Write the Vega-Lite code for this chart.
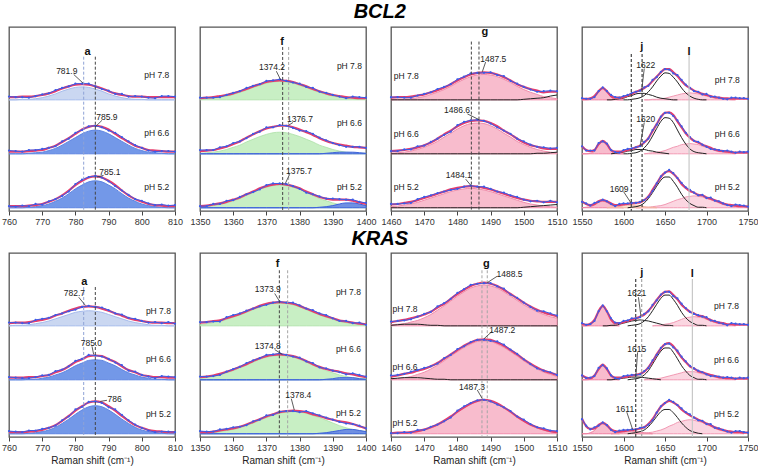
{
"$schema":"https://vega.github.io/schema/vega-lite/v6.json",
"padding":{"top":2,"left":0,"right":0,"bottom":0},
"background":"white",
"config":{
 "font":"Liberation Sans",
 "view":{"stroke":"#555","strokeWidth":1.3},
 "mark":{"invalid":"filter"},
 "axisY":{"disable":true},
 "axisX":{"format":"d","domain":false,"grid":false,"tickSize":4,"tickColor":"#444","labelFontSize":9,"labelColor":"#333","labelPadding":2,"labelFlush":false,"labelOverlap":false,"titleFontSize":10,"titleFontWeight":"normal","titleColor":"#222","titlePadding":3}
},
"datasets":{
"A":[
{"x":760,"b":2,"d":2.06,"f":2.05,"c":2},{"x":762,"b":2,"d":2.05,"f":2.05,"c":2},{"x":764,"b":2,"d":2.05,"f":2.06,"c":2.01},{"x":766,"b":2,"d":2.04,"f":2.06,"c":2.01},{"x":768,"b":2,"d":2.07,"f":2.07,"c":2.02},{"x":770,"b":2,"d":2.1,"f":2.09,"c":2.04},{"x":772,"b":2,"d":2.12,"f":2.12,"c":2.07},{"x":774,"b":2,"d":2.18,"f":2.16,"c":2.11},{"x":776,"b":2,"d":2.22,"f":2.21,"c":2.16},{"x":778,"b":2,"d":2.25,"f":2.25,"c":2.2},{"x":780,"b":2,"d":2.3,"f":2.28,"c":2.23},{"x":782,"b":2,"d":2.3,"f":2.29,"c":2.24},{"x":784,"b":2,"d":2.3,"f":2.28,"c":2.23},{"x":786,"b":2,"d":2.25,"f":2.25,"c":2.2},{"x":788,"b":2,"d":2.2,"f":2.21,"c":2.16},{"x":790,"b":2,"d":2.17,"f":2.16,"c":2.11},{"x":792,"b":2,"d":2.11,"f":2.12,"c":2.07},{"x":794,"b":2,"d":2.11,"f":2.09,"c":2.04},{"x":796,"b":2,"d":2.06,"f":2.07,"c":2.02},{"x":798,"b":2,"d":2.07,"f":2.06,"c":2.01},{"x":800,"b":2,"d":2.06,"f":2.06,"c":2.01},{"x":802,"b":2,"d":2.04,"f":2.05,"c":2},{"x":804,"b":2,"d":2.03,"f":2.05,"c":2},{"x":806,"b":2,"d":2.07,"f":2.05,"c":2},{"x":808,"b":2,"d":2.07,"f":2.05,"c":2},{"x":810,"b":2,"d":2.06,"f":2.05,"c":2},
{"x":760,"b":1,"d":1.06,"f":1.04,"c":1},{"x":762,"b":1,"d":1.05,"f":1.04,"c":1},{"x":764,"b":1,"d":1.04,"f":1.04,"c":1},{"x":766,"b":1,"d":1.07,"f":1.05,"c":1.01},{"x":768,"b":1,"d":1.07,"f":1.06,"c":1.02},{"x":770,"b":1,"d":1.09,"f":1.07,"c":1.03},{"x":772,"b":1,"d":1.11,"f":1.11,"c":1.06},{"x":774,"b":1,"d":1.14,"f":1.15,"c":1.1},{"x":776,"b":1,"d":1.23,"f":1.22,"c":1.16},{"x":778,"b":1,"d":1.28,"f":1.29,"c":1.23},{"x":780,"b":1,"d":1.39,"f":1.37,"c":1.3},{"x":782,"b":1,"d":1.44,"f":1.45,"c":1.37},{"x":784,"b":1,"d":1.51,"f":1.5,"c":1.42},{"x":786,"b":1,"d":1.52,"f":1.52,"c":1.44},{"x":788,"b":1,"d":1.49,"f":1.5,"c":1.42},{"x":790,"b":1,"d":1.43,"f":1.45,"c":1.37},{"x":792,"b":1,"d":1.39,"f":1.37,"c":1.3},{"x":794,"b":1,"d":1.31,"f":1.29,"c":1.23},{"x":796,"b":1,"d":1.23,"f":1.22,"c":1.16},{"x":798,"b":1,"d":1.16,"f":1.15,"c":1.1},{"x":800,"b":1,"d":1.11,"f":1.11,"c":1.06},{"x":802,"b":1,"d":1.06,"f":1.07,"c":1.03},{"x":804,"b":1,"d":1.04,"f":1.06,"c":1.02},{"x":806,"b":1,"d":1.05,"f":1.05,"c":1.01},{"x":808,"b":1,"d":1.05,"f":1.04,"c":1},{"x":810,"b":1,"d":1.04,"f":1.04,"c":1},
{"x":760,"b":0,"d":0.03,"f":0.03,"c":0},{"x":762,"b":0,"d":0.02,"f":0.03,"c":0},{"x":764,"b":0,"d":0.04,"f":0.03,"c":0},{"x":766,"b":0,"d":0.03,"f":0.04,"c":0.01},{"x":768,"b":0,"d":0.07,"f":0.05,"c":0.02},{"x":770,"b":0,"d":0.06,"f":0.07,"c":0.04},{"x":772,"b":0,"d":0.12,"f":0.11,"c":0.07},{"x":774,"b":0,"d":0.16,"f":0.16,"c":0.12},{"x":776,"b":0,"d":0.22,"f":0.23,"c":0.18},{"x":778,"b":0,"d":0.3,"f":0.32,"c":0.26},{"x":780,"b":0,"d":0.44,"f":0.42,"c":0.35},{"x":782,"b":0,"d":0.52,"f":0.5,"c":0.42},{"x":784,"b":0,"d":0.57,"f":0.56,"c":0.48},{"x":786,"b":0,"d":0.59,"f":0.58,"c":0.5},{"x":788,"b":0,"d":0.56,"f":0.56,"c":0.48},{"x":790,"b":0,"d":0.49,"f":0.5,"c":0.42},{"x":792,"b":0,"d":0.4,"f":0.42,"c":0.35},{"x":794,"b":0,"d":0.32,"f":0.32,"c":0.26},{"x":796,"b":0,"d":0.24,"f":0.23,"c":0.18},{"x":798,"b":0,"d":0.16,"f":0.16,"c":0.12},{"x":800,"b":0,"d":0.13,"f":0.11,"c":0.07},{"x":802,"b":0,"d":0.08,"f":0.07,"c":0.04},{"x":804,"b":0,"d":0.05,"f":0.05,"c":0.02},{"x":806,"b":0,"d":0.06,"f":0.04,"c":0.01},{"x":808,"b":0,"d":0.04,"f":0.03,"c":0},{"x":810,"b":0,"d":0.05,"f":0.03,"c":0}
],
"B":[
{"x":760,"b":2,"d":2.06,"f":2.05,"c":2},{"x":762,"b":2,"d":2.06,"f":2.06,"c":2.01},{"x":764,"b":2,"d":2.05,"f":2.06,"c":2.01},{"x":766,"b":2,"d":2.05,"f":2.07,"c":2.02},{"x":768,"b":2,"d":2.11,"f":2.09,"c":2.04},{"x":770,"b":2,"d":2.13,"f":2.11,"c":2.06},{"x":772,"b":2,"d":2.15,"f":2.14,"c":2.09},{"x":774,"b":2,"d":2.2,"f":2.19,"c":2.13},{"x":776,"b":2,"d":2.23,"f":2.23,"c":2.17},{"x":778,"b":2,"d":2.27,"f":2.28,"c":2.21},{"x":780,"b":2,"d":2.3,"f":2.32,"c":2.25},{"x":782,"b":2,"d":2.35,"f":2.35,"c":2.27},{"x":784,"b":2,"d":2.37,"f":2.36,"c":2.28},{"x":786,"b":2,"d":2.35,"f":2.35,"c":2.27},{"x":788,"b":2,"d":2.34,"f":2.32,"c":2.25},{"x":790,"b":2,"d":2.29,"f":2.28,"c":2.21},{"x":792,"b":2,"d":2.23,"f":2.23,"c":2.17},{"x":794,"b":2,"d":2.21,"f":2.19,"c":2.13},{"x":796,"b":2,"d":2.15,"f":2.14,"c":2.09},{"x":798,"b":2,"d":2.13,"f":2.11,"c":2.06},{"x":800,"b":2,"d":2.09,"f":2.09,"c":2.04},{"x":802,"b":2,"d":2.06,"f":2.07,"c":2.02},{"x":804,"b":2,"d":2.07,"f":2.06,"c":2.01},{"x":806,"b":2,"d":2.05,"f":2.06,"c":2.01},{"x":808,"b":2,"d":2.07,"f":2.05,"c":2},{"x":810,"b":2,"d":2.04,"f":2.05,"c":2},
{"x":760,"b":1,"d":1.05,"f":1.04,"c":1},{"x":762,"b":1,"d":1.04,"f":1.04,"c":1},{"x":764,"b":1,"d":1.03,"f":1.04,"c":1},{"x":766,"b":1,"d":1.03,"f":1.05,"c":1.01},{"x":768,"b":1,"d":1.05,"f":1.05,"c":1.01},{"x":770,"b":1,"d":1.08,"f":1.07,"c":1.03},{"x":772,"b":1,"d":1.09,"f":1.09,"c":1.05},{"x":774,"b":1,"d":1.16,"f":1.14,"c":1.09},{"x":776,"b":1,"d":1.19,"f":1.18,"c":1.13},{"x":778,"b":1,"d":1.25,"f":1.25,"c":1.19},{"x":780,"b":1,"d":1.35,"f":1.33,"c":1.26},{"x":782,"b":1,"d":1.39,"f":1.38,"c":1.31},{"x":784,"b":1,"d":1.46,"f":1.44,"c":1.36},{"x":786,"b":1,"d":1.45,"f":1.45,"c":1.37},{"x":788,"b":1,"d":1.43,"f":1.44,"c":1.36},{"x":790,"b":1,"d":1.39,"f":1.38,"c":1.31},{"x":792,"b":1,"d":1.32,"f":1.33,"c":1.26},{"x":794,"b":1,"d":1.27,"f":1.25,"c":1.19},{"x":796,"b":1,"d":1.17,"f":1.18,"c":1.13},{"x":798,"b":1,"d":1.15,"f":1.14,"c":1.09},{"x":800,"b":1,"d":1.09,"f":1.09,"c":1.05},{"x":802,"b":1,"d":1.06,"f":1.07,"c":1.03},{"x":804,"b":1,"d":1.03,"f":1.05,"c":1.01},{"x":806,"b":1,"d":1.07,"f":1.05,"c":1.01},{"x":808,"b":1,"d":1.06,"f":1.04,"c":1},{"x":810,"b":1,"d":1.05,"f":1.04,"c":1},
{"x":760,"b":0,"d":0.05,"f":0.03,"c":0},{"x":762,"b":0,"d":0.04,"f":0.03,"c":0},{"x":764,"b":0,"d":0.03,"f":0.03,"c":0},{"x":766,"b":0,"d":0.06,"f":0.04,"c":0.01},{"x":768,"b":0,"d":0.06,"f":0.05,"c":0.02},{"x":770,"b":0,"d":0.09,"f":0.07,"c":0.04},{"x":772,"b":0,"d":0.11,"f":0.11,"c":0.07},{"x":774,"b":0,"d":0.15,"f":0.16,"c":0.12},{"x":776,"b":0,"d":0.25,"f":0.24,"c":0.19},{"x":778,"b":0,"d":0.32,"f":0.33,"c":0.27},{"x":780,"b":0,"d":0.45,"f":0.43,"c":0.36},{"x":782,"b":0,"d":0.5,"f":0.51,"c":0.44},{"x":784,"b":0,"d":0.59,"f":0.58,"c":0.5},{"x":786,"b":0,"d":0.6,"f":0.6,"c":0.52},{"x":788,"b":0,"d":0.57,"f":0.58,"c":0.5},{"x":790,"b":0,"d":0.49,"f":0.51,"c":0.44},{"x":792,"b":0,"d":0.45,"f":0.43,"c":0.36},{"x":794,"b":0,"d":0.35,"f":0.33,"c":0.27},{"x":796,"b":0,"d":0.25,"f":0.24,"c":0.19},{"x":798,"b":0,"d":0.17,"f":0.16,"c":0.12},{"x":800,"b":0,"d":0.11,"f":0.11,"c":0.07},{"x":802,"b":0,"d":0.06,"f":0.07,"c":0.04},{"x":804,"b":0,"d":0.03,"f":0.05,"c":0.02},{"x":806,"b":0,"d":0.04,"f":0.04,"c":0.01},{"x":808,"b":0,"d":0.04,"f":0.03,"c":0},{"x":810,"b":0,"d":0.03,"f":0.03,"c":0}
],
"C":[
{"x":1350,"b":2,"d":2.04,"f":2.03,"c":2.01},{"x":1352,"b":2,"d":2.04,"f":2.04,"c":2.02},{"x":1354,"b":2,"d":2.04,"f":2.05,"c":2.03},{"x":1356,"b":2,"d":2.05,"f":2.07,"c":2.05},{"x":1358,"b":2,"d":2.09,"f":2.09,"c":2.07},{"x":1360,"b":2,"d":2.13,"f":2.12,"c":2.1},{"x":1362,"b":2,"d":2.16,"f":2.16,"c":2.14},{"x":1364,"b":2,"d":2.22,"f":2.2,"c":2.18},{"x":1366,"b":2,"d":2.26,"f":2.25,"c":2.23},{"x":1368,"b":2,"d":2.29,"f":2.29,"c":2.27},{"x":1370,"b":2,"d":2.35,"f":2.33,"c":2.31},{"x":1372,"b":2,"d":2.36,"f":2.35,"c":2.33},{"x":1374,"b":2,"d":2.38,"f":2.36,"c":2.34},{"x":1376,"b":2,"d":2.35,"f":2.35,"c":2.33},{"x":1378,"b":2,"d":2.32,"f":2.33,"c":2.31},{"x":1380,"b":2,"d":2.3,"f":2.29,"c":2.27},{"x":1382,"b":2,"d":2.24,"f":2.25,"c":2.23},{"x":1384,"b":2,"d":2.22,"f":2.2,"c":2.18},{"x":1386,"b":2,"d":2.15,"f":2.16,"c":2.14},{"x":1388,"b":2,"d":2.13,"f":2.12,"c":2.1},{"x":1390,"b":2,"d":2.09,"f":2.09,"c":2.07},{"x":1392,"b":2,"d":2.06,"f":2.07,"c":2.05},{"x":1394,"b":2,"d":2.03,"f":2.05,"c":2.03},{"x":1396,"b":2,"d":2.06,"f":2.04,"c":2.02},{"x":1398,"b":2,"d":2.05,"f":2.03,"c":2.01},{"x":1400,"b":2,"d":2.04,"f":2.03,"c":2.01},
{"x":1350,"b":1,"d":1.07,"f":1.05,"c":1.01,"e":1},{"x":1352,"b":1,"d":1.07,"f":1.06,"c":1.02,"e":1},{"x":1354,"b":1,"d":1.07,"f":1.07,"c":1.03,"e":1},{"x":1356,"b":1,"d":1.12,"f":1.1,"c":1.05,"e":1},{"x":1358,"b":1,"d":1.14,"f":1.13,"c":1.08,"e":1},{"x":1360,"b":1,"d":1.2,"f":1.18,"c":1.12,"e":1},{"x":1362,"b":1,"d":1.23,"f":1.23,"c":1.16,"e":1},{"x":1364,"b":1,"d":1.29,"f":1.3,"c":1.22,"e":1},{"x":1366,"b":1,"d":1.37,"f":1.36,"c":1.27,"e":1},{"x":1368,"b":1,"d":1.41,"f":1.42,"c":1.32,"e":1},{"x":1370,"b":1,"d":1.49,"f":1.47,"c":1.36,"e":1},{"x":1372,"b":1,"d":1.49,"f":1.5,"c":1.39,"e":1},{"x":1374,"b":1,"d":1.53,"f":1.52,"c":1.4,"e":1},{"x":1376,"b":1,"d":1.52,"f":1.52,"c":1.39,"e":1},{"x":1378,"b":1,"d":1.48,"f":1.49,"c":1.36,"e":1},{"x":1380,"b":1,"d":1.43,"f":1.45,"c":1.32,"e":1},{"x":1382,"b":1,"d":1.42,"f":1.4,"c":1.27,"e":1},{"x":1384,"b":1,"d":1.37,"f":1.35,"c":1.22,"e":1},{"x":1386,"b":1,"d":1.3,"f":1.29,"c":1.16,"e":1},{"x":1388,"b":1,"d":1.25,"f":1.24,"c":1.12,"e":1.01},{"x":1390,"b":1,"d":1.2,"f":1.2,"c":1.08,"e":1.02},{"x":1392,"b":1,"d":1.16,"f":1.17,"c":1.05,"e":1.03},{"x":1394,"b":1,"d":1.13,"f":1.15,"c":1.03,"e":1.03},{"x":1396,"b":1,"d":1.13,"f":1.13,"c":1.02,"e":1.03},{"x":1398,"b":1,"d":1.13,"f":1.12,"c":1.01,"e":1.02},{"x":1400,"b":1,"d":1.11,"f":1.11,"c":1.01,"e":1.01},
{"x":1350,"b":0,"d":0.03,"f":0.03,"c":0.01,"e":0},{"x":1352,"b":0,"d":0.03,"f":0.04,"c":0.02,"e":0},{"x":1354,"b":0,"d":0.07,"f":0.06,"c":0.04,"e":0},{"x":1356,"b":0,"d":0.07,"f":0.08,"c":0.06,"e":0},{"x":1358,"b":0,"d":0.13,"f":0.11,"c":0.09,"e":0},{"x":1360,"b":0,"d":0.14,"f":0.15,"c":0.13,"e":0},{"x":1362,"b":0,"d":0.2,"f":0.19,"c":0.17,"e":0},{"x":1364,"b":0,"d":0.25,"f":0.25,"c":0.23,"e":0},{"x":1366,"b":0,"d":0.29,"f":0.3,"c":0.28,"e":0},{"x":1368,"b":0,"d":0.34,"f":0.36,"c":0.34,"e":0},{"x":1370,"b":0,"d":0.42,"f":0.4,"c":0.38,"e":0},{"x":1372,"b":0,"d":0.45,"f":0.43,"c":0.41,"e":0},{"x":1374,"b":0,"d":0.45,"f":0.44,"c":0.42,"e":0},{"x":1376,"b":0,"d":0.44,"f":0.43,"c":0.41,"e":0},{"x":1378,"b":0,"d":0.4,"f":0.4,"c":0.38,"e":0},{"x":1380,"b":0,"d":0.35,"f":0.36,"c":0.34,"e":0},{"x":1382,"b":0,"d":0.28,"f":0.3,"c":0.28,"e":0},{"x":1384,"b":0,"d":0.25,"f":0.25,"c":0.23,"e":0},{"x":1386,"b":0,"d":0.21,"f":0.2,"c":0.17,"e":0.01},{"x":1388,"b":0,"d":0.17,"f":0.17,"c":0.13,"e":0.02},{"x":1390,"b":0,"d":0.17,"f":0.15,"c":0.09,"e":0.04},{"x":1392,"b":0,"d":0.16,"f":0.15,"c":0.06,"e":0.07},{"x":1394,"b":0,"d":0.15,"f":0.15,"c":0.04,"e":0.09},{"x":1396,"b":0,"d":0.15,"f":0.13,"c":0.02,"e":0.09},{"x":1398,"b":0,"d":0.11,"f":0.1,"c":0.01,"e":0.07},{"x":1400,"b":0,"d":0.09,"f":0.07,"c":0.01,"e":0.04}
],
"D":[
{"x":1350,"b":2,"d":2.07,"f":2.06,"c":2.02},{"x":1352,"b":2,"d":2.07,"f":2.07,"c":2.04},{"x":1354,"b":2,"d":2.08,"f":2.09,"c":2.06},{"x":1356,"b":2,"d":2.08,"f":2.1,"c":2.08},{"x":1358,"b":2,"d":2.16,"f":2.14,"c":2.12},{"x":1360,"b":2,"d":2.2,"f":2.18,"c":2.16},{"x":1362,"b":2,"d":2.23,"f":2.22,"c":2.2},{"x":1364,"b":2,"d":2.28,"f":2.27,"c":2.25},{"x":1366,"b":2,"d":2.32,"f":2.32,"c":2.3},{"x":1368,"b":2,"d":2.36,"f":2.37,"c":2.35},{"x":1370,"b":2,"d":2.39,"f":2.41,"c":2.39},{"x":1372,"b":2,"d":2.43,"f":2.43,"c":2.41},{"x":1374,"b":2,"d":2.45,"f":2.44,"c":2.42},{"x":1376,"b":2,"d":2.43,"f":2.43,"c":2.41},{"x":1378,"b":2,"d":2.43,"f":2.41,"c":2.39},{"x":1380,"b":2,"d":2.38,"f":2.37,"c":2.35},{"x":1382,"b":2,"d":2.32,"f":2.32,"c":2.3},{"x":1384,"b":2,"d":2.29,"f":2.27,"c":2.25},{"x":1386,"b":2,"d":2.23,"f":2.22,"c":2.2},{"x":1388,"b":2,"d":2.2,"f":2.18,"c":2.16},{"x":1390,"b":2,"d":2.14,"f":2.14,"c":2.12},{"x":1392,"b":2,"d":2.09,"f":2.1,"c":2.08},{"x":1394,"b":2,"d":2.09,"f":2.08,"c":2.06},{"x":1396,"b":2,"d":2.05,"f":2.06,"c":2.04},{"x":1398,"b":2,"d":2.06,"f":2.04,"c":2.02},{"x":1400,"b":2,"d":2.02,"f":2.03,"c":2.01},
{"x":1350,"b":1,"d":1.06,"f":1.05,"c":1.03,"e":1},{"x":1352,"b":1,"d":1.06,"f":1.06,"c":1.04,"e":1},{"x":1354,"b":1,"d":1.07,"f":1.08,"c":1.06,"e":1},{"x":1356,"b":1,"d":1.09,"f":1.11,"c":1.09,"e":1},{"x":1358,"b":1,"d":1.15,"f":1.15,"c":1.13,"e":1},{"x":1360,"b":1,"d":1.2,"f":1.19,"c":1.17,"e":1},{"x":1362,"b":1,"d":1.24,"f":1.24,"c":1.22,"e":1},{"x":1364,"b":1,"d":1.31,"f":1.29,"c":1.27,"e":1},{"x":1366,"b":1,"d":1.36,"f":1.35,"c":1.33,"e":1},{"x":1368,"b":1,"d":1.4,"f":1.4,"c":1.38,"e":1},{"x":1370,"b":1,"d":1.46,"f":1.44,"c":1.42,"e":1},{"x":1372,"b":1,"d":1.47,"f":1.46,"c":1.44,"e":1},{"x":1374,"b":1,"d":1.49,"f":1.47,"c":1.45,"e":1},{"x":1376,"b":1,"d":1.46,"f":1.46,"c":1.44,"e":1},{"x":1378,"b":1,"d":1.43,"f":1.44,"c":1.42,"e":1},{"x":1380,"b":1,"d":1.41,"f":1.4,"c":1.38,"e":1},{"x":1382,"b":1,"d":1.34,"f":1.35,"c":1.33,"e":1},{"x":1384,"b":1,"d":1.31,"f":1.29,"c":1.27,"e":1},{"x":1386,"b":1,"d":1.23,"f":1.24,"c":1.22,"e":1},{"x":1388,"b":1,"d":1.21,"f":1.2,"c":1.17,"e":1.01},{"x":1390,"b":1,"d":1.17,"f":1.17,"c":1.13,"e":1.02},{"x":1392,"b":1,"d":1.14,"f":1.15,"c":1.09,"e":1.04},{"x":1394,"b":1,"d":1.1,"f":1.12,"c":1.06,"e":1.04},{"x":1396,"b":1,"d":1.12,"f":1.1,"c":1.04,"e":1.04},{"x":1398,"b":1,"d":1.09,"f":1.07,"c":1.03,"e":1.02},{"x":1400,"b":1,"d":1.06,"f":1.05,"c":1.02,"e":1.01},
{"x":1350,"b":0,"d":0.05,"f":0.03,"c":0.01,"e":0},{"x":1352,"b":0,"d":0.04,"f":0.03,"c":0.01,"e":0},{"x":1354,"b":0,"d":0.04,"f":0.04,"c":0.02,"e":0},{"x":1356,"b":0,"d":0.08,"f":0.06,"c":0.04,"e":0},{"x":1358,"b":0,"d":0.09,"f":0.08,"c":0.06,"e":0},{"x":1360,"b":0,"d":0.12,"f":0.1,"c":0.08,"e":0},{"x":1362,"b":0,"d":0.13,"f":0.13,"c":0.11,"e":0},{"x":1364,"b":0,"d":0.16,"f":0.17,"c":0.15,"e":0},{"x":1366,"b":0,"d":0.23,"f":0.22,"c":0.2,"e":0},{"x":1368,"b":0,"d":0.26,"f":0.27,"c":0.25,"e":0},{"x":1370,"b":0,"d":0.34,"f":0.32,"c":0.3,"e":0},{"x":1372,"b":0,"d":0.35,"f":0.36,"c":0.34,"e":0},{"x":1374,"b":0,"d":0.41,"f":0.4,"c":0.38,"e":0},{"x":1376,"b":0,"d":0.42,"f":0.42,"c":0.4,"e":0},{"x":1378,"b":0,"d":0.42,"f":0.43,"c":0.41,"e":0},{"x":1380,"b":0,"d":0.4,"f":0.42,"c":0.4,"e":0},{"x":1382,"b":0,"d":0.42,"f":0.4,"c":0.38,"e":0},{"x":1384,"b":0,"d":0.38,"f":0.36,"c":0.34,"e":0},{"x":1386,"b":0,"d":0.34,"f":0.33,"c":0.3,"e":0.01},{"x":1388,"b":0,"d":0.3,"f":0.29,"c":0.25,"e":0.02},{"x":1390,"b":0,"d":0.26,"f":0.26,"c":0.2,"e":0.04},{"x":1392,"b":0,"d":0.22,"f":0.23,"c":0.15,"e":0.06},{"x":1394,"b":0,"d":0.19,"f":0.21,"c":0.11,"e":0.08},{"x":1396,"b":0,"d":0.18,"f":0.18,"c":0.08,"e":0.08},{"x":1398,"b":0,"d":0.15,"f":0.14,"c":0.06,"e":0.06},{"x":1400,"b":0,"d":0.1,"f":0.1,"c":0.04,"e":0.04}
],
"E":[
{"x":1460,"b":2,"d":2.05,"f":2.04,"c":2,"e":2},{"x":1462,"b":2,"d":2.05,"f":2.05,"c":2.01,"e":2},{"x":1464,"b":2,"d":2.04,"f":2.05,"c":2.01,"e":2},{"x":1466,"b":2,"d":2.04,"f":2.06,"c":2.02,"e":2},{"x":1468,"b":2,"d":2.08,"f":2.08,"c":2.04,"e":2},{"x":1470,"b":2,"d":2.11,"f":2.1,"c":2.06,"e":2},{"x":1472,"b":2,"d":2.14,"f":2.14,"c":2.1,"e":2},{"x":1474,"b":2,"d":2.2,"f":2.18,"c":2.14,"e":2},{"x":1476,"b":2,"d":2.24,"f":2.23,"c":2.19,"e":2},{"x":1478,"b":2,"d":2.29,"f":2.29,"c":2.25,"e":2},{"x":1480,"b":2,"d":2.38,"f":2.36,"c":2.32,"e":2},{"x":1482,"b":2,"d":2.43,"f":2.42,"c":2.38,"e":2},{"x":1484,"b":2,"d":2.49,"f":2.47,"c":2.43,"e":2},{"x":1486,"b":2,"d":2.5,"f":2.5,"c":2.46,"e":2},{"x":1488,"b":2,"d":2.5,"f":2.51,"c":2.47,"e":2},{"x":1490,"b":2,"d":2.51,"f":2.5,"c":2.46,"e":2},{"x":1492,"b":2,"d":2.46,"f":2.47,"c":2.43,"e":2},{"x":1494,"b":2,"d":2.44,"f":2.42,"c":2.38,"e":2},{"x":1496,"b":2,"d":2.35,"f":2.36,"c":2.32,"e":2},{"x":1498,"b":2,"d":2.3,"f":2.29,"c":2.25,"e":2},{"x":1500,"b":2,"d":2.24,"f":2.24,"c":2.19,"e":2.01},{"x":1502,"b":2,"d":2.19,"f":2.2,"c":2.14,"e":2.02},{"x":1504,"b":2,"d":2.15,"f":2.17,"c":2.1,"e":2.03},{"x":1506,"b":2,"d":2.16,"f":2.14,"c":2.06,"e":2.04},{"x":1508,"b":2,"d":2.17,"f":2.15,"c":2.04,"e":2.07},{"x":1510,"b":2,"d":2.16,"f":2.15,"c":2.02,"e":2.09},
{"x":1460,"b":1,"d":1.05,"f":1.05,"c":1.01,"e":1},{"x":1462,"b":1,"d":1.05,"f":1.06,"c":1.02,"e":1},{"x":1464,"b":1,"d":1.08,"f":1.07,"c":1.03,"e":1},{"x":1466,"b":1,"d":1.08,"f":1.09,"c":1.05,"e":1},{"x":1468,"b":1,"d":1.14,"f":1.12,"c":1.08,"e":1},{"x":1470,"b":1,"d":1.15,"f":1.16,"c":1.12,"e":1},{"x":1472,"b":1,"d":1.22,"f":1.21,"c":1.17,"e":1},{"x":1474,"b":1,"d":1.28,"f":1.28,"c":1.23,"e":1},{"x":1476,"b":1,"d":1.35,"f":1.36,"c":1.31,"e":1},{"x":1478,"b":1,"d":1.41,"f":1.43,"c":1.38,"e":1},{"x":1480,"b":1,"d":1.53,"f":1.51,"c":1.46,"e":1},{"x":1482,"b":1,"d":1.59,"f":1.57,"c":1.52,"e":1},{"x":1484,"b":1,"d":1.62,"f":1.61,"c":1.56,"e":1},{"x":1486,"b":1,"d":1.63,"f":1.62,"c":1.57,"e":1},{"x":1488,"b":1,"d":1.61,"f":1.61,"c":1.56,"e":1},{"x":1490,"b":1,"d":1.56,"f":1.57,"c":1.52,"e":1},{"x":1492,"b":1,"d":1.49,"f":1.51,"c":1.46,"e":1},{"x":1494,"b":1,"d":1.43,"f":1.43,"c":1.38,"e":1},{"x":1496,"b":1,"d":1.37,"f":1.36,"c":1.31,"e":1},{"x":1498,"b":1,"d":1.28,"f":1.28,"c":1.23,"e":1},{"x":1500,"b":1,"d":1.23,"f":1.21,"c":1.17,"e":1},{"x":1502,"b":1,"d":1.17,"f":1.16,"c":1.12,"e":1},{"x":1504,"b":1,"d":1.13,"f":1.13,"c":1.08,"e":1.01},{"x":1506,"b":1,"d":1.12,"f":1.1,"c":1.05,"e":1.01},{"x":1508,"b":1,"d":1.1,"f":1.09,"c":1.03,"e":1.02},{"x":1510,"b":1,"d":1.11,"f":1.09,"c":1.02,"e":1.03},
{"x":1460,"b":0,"d":0.07,"f":0.06,"c":0.02,"e":0},{"x":1462,"b":0,"d":0.07,"f":0.07,"c":0.03,"e":0},{"x":1464,"b":0,"d":0.08,"f":0.09,"c":0.05,"e":0},{"x":1466,"b":0,"d":0.09,"f":0.11,"c":0.07,"e":0},{"x":1468,"b":0,"d":0.16,"f":0.14,"c":0.1,"e":0},{"x":1470,"b":0,"d":0.2,"f":0.18,"c":0.14,"e":0},{"x":1472,"b":0,"d":0.23,"f":0.22,"c":0.18,"e":0},{"x":1474,"b":0,"d":0.27,"f":0.26,"c":0.22,"e":0},{"x":1476,"b":0,"d":0.3,"f":0.3,"c":0.26,"e":0},{"x":1478,"b":0,"d":0.33,"f":0.34,"c":0.3,"e":0},{"x":1480,"b":0,"d":0.35,"f":0.37,"c":0.33,"e":0},{"x":1482,"b":0,"d":0.39,"f":0.39,"c":0.35,"e":0},{"x":1484,"b":0,"d":0.41,"f":0.4,"c":0.36,"e":0},{"x":1486,"b":0,"d":0.39,"f":0.39,"c":0.35,"e":0},{"x":1488,"b":0,"d":0.39,"f":0.37,"c":0.33,"e":0},{"x":1490,"b":0,"d":0.35,"f":0.34,"c":0.3,"e":0},{"x":1492,"b":0,"d":0.3,"f":0.3,"c":0.26,"e":0},{"x":1494,"b":0,"d":0.28,"f":0.26,"c":0.22,"e":0},{"x":1496,"b":0,"d":0.23,"f":0.22,"c":0.18,"e":0},{"x":1498,"b":0,"d":0.2,"f":0.18,"c":0.14,"e":0},{"x":1500,"b":0,"d":0.15,"f":0.15,"c":0.1,"e":0.01},{"x":1502,"b":0,"d":0.12,"f":0.13,"c":0.07,"e":0.02},{"x":1504,"b":0,"d":0.13,"f":0.12,"c":0.05,"e":0.03},{"x":1506,"b":0,"d":0.1,"f":0.11,"c":0.03,"e":0.04},{"x":1508,"b":0,"d":0.13,"f":0.11,"c":0.02,"e":0.05},{"x":1510,"b":0,"d":0.1,"f":0.11,"c":0.01,"e":0.06}
],
"F":[
{"x":1460,"b":2,"d":2.08,"f":2.07,"c":2.02,"e":2.01},{"x":1462,"b":2,"d":2.09,"f":2.09,"c":2.03,"e":2.02},{"x":1464,"b":2,"d":2.1,"f":2.11,"c":2.04,"e":2.03},{"x":1466,"b":2,"d":2.12,"f":2.14,"c":2.07,"e":2.03},{"x":1468,"b":2,"d":2.17,"f":2.17,"c":2.1,"e":2.03},{"x":1470,"b":2,"d":2.22,"f":2.21,"c":2.15,"e":2.02},{"x":1472,"b":2,"d":2.26,"f":2.26,"c":2.21,"e":2.01},{"x":1474,"b":2,"d":2.36,"f":2.34,"c":2.29,"e":2.01},{"x":1476,"b":2,"d":2.42,"f":2.41,"c":2.37,"e":2},{"x":1478,"b":2,"d":2.5,"f":2.5,"c":2.46,"e":2},{"x":1480,"b":2,"d":2.61,"f":2.59,"c":2.55,"e":2},{"x":1482,"b":2,"d":2.68,"f":2.67,"c":2.63,"e":2},{"x":1484,"b":2,"d":2.76,"f":2.74,"c":2.7,"e":2},{"x":1486,"b":2,"d":2.78,"f":2.78,"c":2.74,"e":2},{"x":1488,"b":2,"d":2.79,"f":2.8,"c":2.76,"e":2},{"x":1490,"b":2,"d":2.79,"f":2.78,"c":2.74,"e":2},{"x":1492,"b":2,"d":2.73,"f":2.74,"c":2.7,"e":2},{"x":1494,"b":2,"d":2.69,"f":2.67,"c":2.63,"e":2},{"x":1496,"b":2,"d":2.58,"f":2.59,"c":2.55,"e":2},{"x":1498,"b":2,"d":2.52,"f":2.51,"c":2.47,"e":2},{"x":1500,"b":2,"d":2.43,"f":2.43,"c":2.39,"e":2},{"x":1502,"b":2,"d":2.35,"f":2.36,"c":2.32,"e":2},{"x":1504,"b":2,"d":2.28,"f":2.3,"c":2.26,"e":2},{"x":1506,"b":2,"d":2.27,"f":2.25,"c":2.21,"e":2},{"x":1508,"b":2,"d":2.23,"f":2.21,"c":2.17,"e":2},{"x":1510,"b":2,"d":2.19,"f":2.18,"c":2.14,"e":2},
{"x":1460,"b":1,"d":1.08,"f":1.06,"c":1.01,"e":1.02},{"x":1462,"b":1,"d":1.09,"f":1.08,"c":1.02,"e":1.03},{"x":1464,"b":1,"d":1.11,"f":1.11,"c":1.04,"e":1.04},{"x":1466,"b":1,"d":1.15,"f":1.13,"c":1.06,"e":1.04},{"x":1468,"b":1,"d":1.18,"f":1.17,"c":1.1,"e":1.04},{"x":1470,"b":1,"d":1.22,"f":1.2,"c":1.14,"e":1.03},{"x":1472,"b":1,"d":1.25,"f":1.25,"c":1.2,"e":1.02},{"x":1474,"b":1,"d":1.3,"f":1.31,"c":1.27,"e":1.01},{"x":1476,"b":1,"d":1.4,"f":1.39,"c":1.35,"e":1.01},{"x":1478,"b":1,"d":1.46,"f":1.47,"c":1.44,"e":1},{"x":1480,"b":1,"d":1.57,"f":1.55,"c":1.52,"e":1},{"x":1482,"b":1,"d":1.62,"f":1.63,"c":1.6,"e":1},{"x":1484,"b":1,"d":1.7,"f":1.69,"c":1.66,"e":1},{"x":1486,"b":1,"d":1.74,"f":1.74,"c":1.71,"e":1},{"x":1488,"b":1,"d":1.74,"f":1.75,"c":1.72,"e":1},{"x":1490,"b":1,"d":1.72,"f":1.74,"c":1.71,"e":1},{"x":1492,"b":1,"d":1.71,"f":1.69,"c":1.66,"e":1},{"x":1494,"b":1,"d":1.65,"f":1.63,"c":1.6,"e":1},{"x":1496,"b":1,"d":1.56,"f":1.55,"c":1.52,"e":1},{"x":1498,"b":1,"d":1.48,"f":1.47,"c":1.44,"e":1},{"x":1500,"b":1,"d":1.38,"f":1.38,"c":1.35,"e":1},{"x":1502,"b":1,"d":1.29,"f":1.3,"c":1.27,"e":1},{"x":1504,"b":1,"d":1.21,"f":1.23,"c":1.2,"e":1},{"x":1506,"b":1,"d":1.17,"f":1.17,"c":1.14,"e":1},{"x":1508,"b":1,"d":1.14,"f":1.13,"c":1.1,"e":1},{"x":1510,"b":1,"d":1.09,"f":1.09,"c":1.06,"e":1},
{"x":1460,"b":0,"d":0.01,"f":0.01,"c":0},{"x":1462,"b":0,"d":0.01,"f":0.02,"c":0.01},{"x":1464,"b":0,"d":0.03,"f":0.02,"c":0.01},{"x":1466,"b":0,"d":0.02,"f":0.03,"c":0.02},{"x":1468,"b":0,"d":0.07,"f":0.05,"c":0.04},{"x":1470,"b":0,"d":0.07,"f":0.08,"c":0.07},{"x":1472,"b":0,"d":0.13,"f":0.12,"c":0.11},{"x":1474,"b":0,"d":0.17,"f":0.17,"c":0.16},{"x":1476,"b":0,"d":0.23,"f":0.24,"c":0.23},{"x":1478,"b":0,"d":0.3,"f":0.32,"c":0.31},{"x":1480,"b":0,"d":0.43,"f":0.41,"c":0.4},{"x":1482,"b":0,"d":0.51,"f":0.49,"c":0.48},{"x":1484,"b":0,"d":0.57,"f":0.56,"c":0.55},{"x":1486,"b":0,"d":0.62,"f":0.61,"c":0.6},{"x":1488,"b":0,"d":0.63,"f":0.63,"c":0.62},{"x":1490,"b":0,"d":0.6,"f":0.61,"c":0.6},{"x":1492,"b":0,"d":0.54,"f":0.56,"c":0.55},{"x":1494,"b":0,"d":0.49,"f":0.49,"c":0.48},{"x":1496,"b":0,"d":0.42,"f":0.41,"c":0.4},{"x":1498,"b":0,"d":0.32,"f":0.32,"c":0.31},{"x":1500,"b":0,"d":0.26,"f":0.24,"c":0.23},{"x":1502,"b":0,"d":0.18,"f":0.17,"c":0.16},{"x":1504,"b":0,"d":0.12,"f":0.12,"c":0.11},{"x":1506,"b":0,"d":0.1,"f":0.08,"c":0.07},{"x":1508,"b":0,"d":0.06,"f":0.05,"c":0.04},{"x":1510,"b":0,"d":0.05,"f":0.03,"c":0.02}
],
"G":[
{"x":1550,"b":2,"d":2.03,"f":2.02,"c":2},{"x":1555,"b":2,"d":2.02,"f":2.02,"c":2},{"x":1560,"b":2,"d":2.02,"f":2.03,"c":2.01},{"x":1565,"b":2,"d":2.05,"f":2.07,"c":2.05},{"x":1570,"b":2,"d":2.16,"f":2.16,"c":2.14},{"x":1575,"b":2,"d":2.23,"f":2.22,"c":2.2},{"x":1580,"b":2,"d":2.16,"f":2.16,"c":2.14,"e":2},{"x":1585,"b":2,"d":2.09,"f":2.07,"c":2.05,"e":2},{"x":1590,"b":2,"d":2.05,"f":2.04,"c":2.01,"e":2.01},{"x":1595,"b":2,"d":2.04,"f":2.04,"c":2,"e":2.02},{"x":1600,"b":2,"d":2.07,"f":2.05,"c":2,"e":2.03,"g":2},{"x":1605,"b":2,"d":2.09,"f":2.08,"e":2.06,"g":2},{"x":1610,"b":2,"d":2.13,"f":2.11,"e":2.08,"g":2.01},{"x":1615,"b":2,"d":2.15,"f":2.15,"e":2.11,"g":2.02},{"x":1620,"b":2,"d":2.17,"f":2.18,"e":2.12,"g":2.04},{"x":1625,"b":2,"d":2.23,"f":2.22,"e":2.12,"g":2.08,"h":2},{"x":1630,"b":2,"d":2.26,"f":2.27,"e":2.1,"g":2.15,"h":2},{"x":1635,"b":2,"d":2.37,"f":2.35,"e":2.08,"g":2.24,"h":2.01},{"x":1640,"b":2,"d":2.42,"f":2.43,"e":2.05,"g":2.35,"h":2.01},{"x":1645,"b":2,"d":2.52,"f":2.51,"e":2.03,"g":2.44,"h":2.02},{"x":1650,"b":2,"d":2.57,"f":2.57,"e":2.02,"g":2.5,"h":2.03},{"x":1655,"b":2,"d":2.56,"f":2.57,"e":2.01,"g":2.49,"h":2.05},{"x":1660,"b":2,"d":2.49,"f":2.51,"e":2,"g":2.42,"h":2.07},{"x":1665,"b":2,"d":2.46,"f":2.44,"e":2,"g":2.33,"h":2.09},{"x":1670,"b":2,"d":2.37,"f":2.35,"g":2.22,"h":2.11},{"x":1675,"b":2,"d":2.28,"f":2.27,"g":2.13,"h":2.12},{"x":1680,"b":2,"d":2.22,"f":2.22,"g":2.07,"h":2.13},{"x":1685,"b":2,"d":2.16,"f":2.17,"g":2.03,"h":2.12},{"x":1690,"b":2,"d":2.15,"f":2.14,"g":2.01,"h":2.11},{"x":1695,"b":2,"d":2.1,"f":2.11,"g":2,"h":2.09},{"x":1700,"b":2,"d":2.11,"f":2.09,"g":2,"h":2.07},{"x":1705,"b":2,"d":2.06,"f":2.07,"h":2.05},{"x":1710,"b":2,"d":2.06,"f":2.05,"h":2.03},{"x":1715,"b":2,"d":2.04,"f":2.04,"h":2.02},{"x":1720,"b":2,"d":2.02,"f":2.03,"h":2.01},{"x":1725,"b":2,"d":2.01,"f":2.03,"h":2.01},{"x":1730,"b":2,"d":2.04,"f":2.02,"h":2},{"x":1735,"b":2,"d":2.04,"f":2.02,"h":2},{"x":1740,"b":2,"d":2.03,"f":2.02},{"x":1745,"b":2,"d":2.03,"f":2.02},{"x":1750,"b":2,"d":2.02,"f":2.02},
{"x":1550,"b":1,"d":1.14,"f":1.14,"c":1},{"x":1555,"b":1,"d":1.06,"f":1.07,"c":1},{"x":1560,"b":1,"d":1.06,"f":1.05,"c":1.01},{"x":1565,"b":1,"d":1.06,"f":1.07,"c":1.05},{"x":1570,"b":1,"d":1.2,"f":1.18,"c":1.16},{"x":1575,"b":1,"d":1.23,"f":1.24,"c":1.22},{"x":1580,"b":1,"d":1.19,"f":1.18,"c":1.16},{"x":1585,"b":1,"d":1.07,"f":1.07,"c":1.05,"e":1},{"x":1590,"b":1,"d":1.03,"f":1.04,"c":1.01,"e":1.01},{"x":1595,"b":1,"d":1.02,"f":1.04,"c":1,"e":1.02},{"x":1600,"b":1,"d":1.07,"f":1.05,"c":1,"e":1.03,"g":1},{"x":1605,"b":1,"d":1.09,"f":1.07,"e":1.05,"g":1},{"x":1610,"b":1,"d":1.1,"f":1.09,"e":1.06,"g":1.01},{"x":1615,"b":1,"d":1.12,"f":1.12,"e":1.08,"g":1.02},{"x":1620,"b":1,"d":1.14,"f":1.15,"e":1.08,"g":1.05},{"x":1625,"b":1,"d":1.22,"f":1.21,"e":1.08,"g":1.11,"h":1},{"x":1630,"b":1,"d":1.28,"f":1.29,"e":1.06,"g":1.2,"h":1.01},{"x":1635,"b":1,"d":1.44,"f":1.42,"e":1.05,"g":1.33,"h":1.02},{"x":1640,"b":1,"d":1.54,"f":1.55,"e":1.03,"g":1.47,"h":1.03},{"x":1645,"b":1,"d":1.69,"f":1.68,"e":1.02,"g":1.6,"h":1.04},{"x":1650,"b":1,"d":1.76,"f":1.76,"e":1.01,"g":1.67,"h":1.06},{"x":1655,"b":1,"d":1.76,"f":1.77,"e":1,"g":1.66,"h":1.09},{"x":1660,"b":1,"d":1.7,"f":1.72,"g":1.58,"h":1.12},{"x":1665,"b":1,"d":1.62,"f":1.6,"g":1.44,"h":1.14},{"x":1670,"b":1,"d":1.51,"f":1.49,"g":1.3,"h":1.17},{"x":1675,"b":1,"d":1.39,"f":1.38,"g":1.18,"h":1.18},{"x":1680,"b":1,"d":1.31,"f":1.3,"g":1.09,"h":1.19},{"x":1685,"b":1,"d":1.24,"f":1.24,"g":1.04,"h":1.18},{"x":1690,"b":1,"d":1.22,"f":1.21,"g":1.02,"h":1.17},{"x":1695,"b":1,"d":1.17,"f":1.17,"g":1.01,"h":1.14},{"x":1700,"b":1,"d":1.13,"f":1.14,"g":1,"h":1.12},{"x":1705,"b":1,"d":1.09,"f":1.11,"h":1.09},{"x":1710,"b":1,"d":1.08,"f":1.08,"h":1.06},{"x":1715,"b":1,"d":1.07,"f":1.06,"h":1.04},{"x":1720,"b":1,"d":1.05,"f":1.05,"h":1.03},{"x":1725,"b":1,"d":1.06,"f":1.04,"h":1.02},{"x":1730,"b":1,"d":1.04,"f":1.03,"h":1.01},{"x":1735,"b":1,"d":1.02,"f":1.02,"h":1},{"x":1740,"b":1,"d":1.04,"f":1.02},{"x":1745,"b":1,"d":1.03,"f":1.02},{"x":1750,"b":1,"d":1.04,"f":1.02},
{"x":1550,"b":0,"d":0.11,"f":0.12,"c":0},{"x":1555,"b":0,"d":0.08,"f":0.07,"c":0.01},{"x":1560,"b":0,"d":0.04,"f":0.05,"c":0.02},{"x":1565,"b":0,"d":0.09,"f":0.07,"c":0.05},{"x":1570,"b":0,"d":0.11,"f":0.12,"c":0.1},{"x":1575,"b":0,"d":0.15,"f":0.14,"c":0.12},{"x":1580,"b":0,"d":0.12,"f":0.12,"c":0.1,"k":0},{"x":1585,"b":0,"d":0.07,"f":0.08,"c":0.05,"k":0.01},{"x":1590,"b":0,"d":0.03,"f":0.05,"c":0.02,"k":0.01},{"x":1595,"b":0,"d":0.07,"f":0.05,"c":0.01,"k":0.02},{"x":1600,"b":0,"d":0.08,"f":0.06,"c":0,"k":0.04},{"x":1605,"b":0,"d":0.08,"f":0.07,"k":0.05,"g":0},{"x":1610,"b":0,"d":0.09,"f":0.08,"k":0.05,"g":0.01},{"x":1615,"b":0,"d":0.09,"f":0.09,"k":0.05,"g":0.02,"h":0},{"x":1620,"b":0,"d":0.11,"f":0.1,"k":0.04,"g":0.04,"h":0},{"x":1625,"b":0,"d":0.14,"f":0.14,"k":0.02,"g":0.09,"h":0.01},{"x":1630,"b":0,"d":0.2,"f":0.21,"k":0.01,"g":0.17,"h":0.01},{"x":1635,"b":0,"d":0.31,"f":0.33,"k":0.01,"g":0.28,"h":0.02},{"x":1640,"b":0,"d":0.45,"f":0.45,"k":0,"g":0.4,"h":0.03},{"x":1645,"b":0,"d":0.58,"f":0.57,"g":0.51,"h":0.04},{"x":1650,"b":0,"d":0.65,"f":0.65,"g":0.57,"h":0.06},{"x":1655,"b":0,"d":0.7,"f":0.68,"g":0.57,"h":0.09},{"x":1660,"b":0,"d":0.64,"f":0.63,"g":0.49,"h":0.12},{"x":1665,"b":0,"d":0.55,"f":0.55,"g":0.38,"h":0.15},{"x":1670,"b":0,"d":0.46,"f":0.44,"g":0.25,"h":0.17},{"x":1675,"b":0,"d":0.38,"f":0.37,"g":0.15,"h":0.2},{"x":1680,"b":0,"d":0.33,"f":0.31,"g":0.08,"h":0.21},{"x":1685,"b":0,"d":0.28,"f":0.28,"g":0.04,"h":0.22},{"x":1690,"b":0,"d":0.23,"f":0.24,"g":0.01,"h":0.21},{"x":1695,"b":0,"d":0.24,"f":0.23,"g":0.01,"h":0.2},{"x":1700,"b":0,"d":0.18,"f":0.19,"g":0,"h":0.17},{"x":1705,"b":0,"d":0.19,"f":0.17,"h":0.15},{"x":1710,"b":0,"d":0.13,"f":0.14,"h":0.12},{"x":1715,"b":0,"d":0.12,"f":0.11,"h":0.09},{"x":1720,"b":0,"d":0.08,"f":0.08,"h":0.06},{"x":1725,"b":0,"d":0.05,"f":0.06,"h":0.04},{"x":1730,"b":0,"d":0.03,"f":0.05,"h":0.03},{"x":1735,"b":0,"d":0.06,"f":0.04,"h":0.02},{"x":1740,"b":0,"d":0.05,"f":0.03,"h":0.01},{"x":1745,"b":0,"d":0.04,"f":0.03,"h":0.01},{"x":1750,"b":0,"d":0.02,"f":0.02,"h":0}
],
"H":[
{"x":1550,"b":2,"d":2.05,"f":2.04,"c":2},{"x":1555,"b":2,"d":2.02,"f":2.02,"c":2},{"x":1560,"b":2,"d":2.03,"f":2.04,"c":2.02},{"x":1565,"b":2,"d":2.09,"f":2.11,"c":2.09},{"x":1570,"b":2,"d":2.27,"f":2.27,"c":2.25},{"x":1575,"b":2,"d":2.38,"f":2.37,"c":2.35,"e":2},{"x":1580,"b":2,"d":2.27,"f":2.27,"c":2.25,"e":2},{"x":1585,"b":2,"d":2.14,"f":2.12,"c":2.09,"e":2.01},{"x":1590,"b":2,"d":2.06,"f":2.05,"c":2.02,"e":2.01},{"x":1595,"b":2,"d":2.05,"f":2.05,"c":2,"e":2.03},{"x":1600,"b":2,"d":2.09,"f":2.07,"e":2.05},{"x":1605,"b":2,"d":2.1,"f":2.09,"e":2.07,"g":2},{"x":1610,"b":2,"d":2.14,"f":2.12,"e":2.09,"g":2.01},{"x":1615,"b":2,"d":2.14,"f":2.14,"e":2.1,"g":2.02},{"x":1620,"b":2,"d":2.16,"f":2.17,"e":2.11,"g":2.04},{"x":1625,"b":2,"d":2.22,"f":2.21,"e":2.1,"g":2.09},{"x":1630,"b":2,"d":2.27,"f":2.28,"e":2.09,"g":2.17},{"x":1635,"b":2,"d":2.39,"f":2.37,"e":2.07,"g":2.28,"h":2},{"x":1640,"b":2,"d":2.47,"f":2.48,"e":2.05,"g":2.4,"h":2.01},{"x":1645,"b":2,"d":2.58,"f":2.57,"e":2.03,"g":2.51,"h":2.01},{"x":1650,"b":2,"d":2.63,"f":2.63,"e":2.01,"g":2.57,"h":2.03},{"x":1655,"b":2,"d":2.63,"f":2.64,"e":2.01,"g":2.57,"h":2.04},{"x":1660,"b":2,"d":2.55,"f":2.57,"e":2,"g":2.49,"h":2.06},{"x":1665,"b":2,"d":2.51,"f":2.49,"g":2.38,"h":2.09},{"x":1670,"b":2,"d":2.41,"f":2.39,"g":2.25,"h":2.12},{"x":1675,"b":2,"d":2.33,"f":2.32,"g":2.15,"h":2.15},{"x":1680,"b":2,"d":2.26,"f":2.26,"g":2.08,"h":2.16},{"x":1685,"b":2,"d":2.22,"f":2.23,"g":2.04,"h":2.17},{"x":1690,"b":2,"d":2.2,"f":2.19,"g":2.01,"h":2.16},{"x":1695,"b":2,"d":2.17,"f":2.18,"g":2.01,"h":2.15},{"x":1700,"b":2,"d":2.16,"f":2.14,"g":2,"h":2.12},{"x":1705,"b":2,"d":2.1,"f":2.11,"h":2.09},{"x":1710,"b":2,"d":2.09,"f":2.08,"h":2.06},{"x":1715,"b":2,"d":2.06,"f":2.06,"h":2.04},{"x":1720,"b":2,"d":2.04,"f":2.05,"h":2.03},{"x":1725,"b":2,"d":2.01,"f":2.03,"h":2.01},{"x":1730,"b":2,"d":2.05,"f":2.03,"h":2.01},{"x":1735,"b":2,"d":2.04,"f":2.02,"h":2},{"x":1740,"b":2,"d":2.03,"f":2.02},{"x":1745,"b":2,"d":2.03,"f":2.02},{"x":1750,"b":2,"d":2.02,"f":2.02},
{"x":1550,"b":1,"d":1.08,"f":1.08,"c":1},{"x":1555,"b":1,"d":1.03,"f":1.04,"c":1},{"x":1560,"b":1,"d":1.04,"f":1.03,"c":1.01},{"x":1565,"b":1,"d":1.07,"f":1.08,"c":1.06},{"x":1570,"b":1,"d":1.22,"f":1.2,"c":1.18},{"x":1575,"b":1,"d":1.27,"f":1.28,"c":1.26},{"x":1580,"b":1,"d":1.21,"f":1.2,"c":1.18,"e":1},{"x":1585,"b":1,"d":1.08,"f":1.08,"c":1.06,"e":1},{"x":1590,"b":1,"d":1.03,"f":1.04,"c":1.01,"e":1.01},{"x":1595,"b":1,"d":1.02,"f":1.04,"c":1,"e":1.02},{"x":1600,"b":1,"d":1.07,"f":1.05,"e":1.03},{"x":1605,"b":1,"d":1.08,"f":1.06,"e":1.04,"g":1},{"x":1610,"b":1,"d":1.09,"f":1.08,"e":1.05,"g":1.01},{"x":1615,"b":1,"d":1.09,"f":1.09,"e":1.05,"g":1.02},{"x":1620,"b":1,"d":1.1,"f":1.11,"e":1.05,"g":1.04},{"x":1625,"b":1,"d":1.16,"f":1.15,"e":1.04,"g":1.09,"h":1},{"x":1630,"b":1,"d":1.22,"f":1.23,"e":1.03,"g":1.17,"h":1.01},{"x":1635,"b":1,"d":1.36,"f":1.34,"e":1.02,"g":1.29,"h":1.01},{"x":1640,"b":1,"d":1.46,"f":1.47,"e":1.01,"g":1.42,"h":1.02},{"x":1645,"b":1,"d":1.59,"f":1.58,"e":1,"g":1.53,"h":1.03},{"x":1650,"b":1,"d":1.66,"f":1.66,"g":1.59,"h":1.05},{"x":1655,"b":1,"d":1.67,"f":1.68,"g":1.59,"h":1.07},{"x":1660,"b":1,"d":1.6,"f":1.62,"g":1.51,"h":1.09},{"x":1665,"b":1,"d":1.54,"f":1.52,"g":1.39,"h":1.11},{"x":1670,"b":1,"d":1.43,"f":1.41,"g":1.26,"h":1.13},{"x":1675,"b":1,"d":1.34,"f":1.33,"g":1.16,"h":1.15},{"x":1680,"b":1,"d":1.26,"f":1.25,"g":1.08,"h":1.15},{"x":1685,"b":1,"d":1.21,"f":1.21,"g":1.04,"h":1.15},{"x":1690,"b":1,"d":1.17,"f":1.16,"g":1.01,"h":1.13},{"x":1695,"b":1,"d":1.14,"f":1.14,"g":1.01,"h":1.11},{"x":1700,"b":1,"d":1.1,"f":1.11,"g":1,"h":1.09},{"x":1705,"b":1,"d":1.07,"f":1.09,"h":1.07},{"x":1710,"b":1,"d":1.07,"f":1.07,"h":1.05},{"x":1715,"b":1,"d":1.06,"f":1.05,"h":1.03},{"x":1720,"b":1,"d":1.04,"f":1.04,"h":1.02},{"x":1725,"b":1,"d":1.05,"f":1.03,"h":1.01},{"x":1730,"b":1,"d":1.04,"f":1.03,"h":1.01},{"x":1735,"b":1,"d":1.02,"f":1.02,"h":1},{"x":1740,"b":1,"d":1.04,"f":1.02},{"x":1745,"b":1,"d":1.03,"f":1.02},{"x":1750,"b":1,"d":1.04,"f":1.02},
{"x":1550,"b":0,"d":0.27,"f":0.28,"c":0},{"x":1555,"b":0,"d":0.15,"f":0.14,"c":0},{"x":1560,"b":0,"d":0.08,"f":0.09,"c":0.02},{"x":1565,"b":0,"d":0.12,"f":0.1,"c":0.06},{"x":1570,"b":0,"d":0.15,"f":0.16,"c":0.14},{"x":1575,"b":0,"d":0.21,"f":0.2,"c":0.18},{"x":1580,"b":0,"d":0.16,"f":0.16,"c":0.14},{"x":1585,"b":0,"d":0.07,"f":0.08,"c":0.06,"k":0},{"x":1590,"b":0,"d":0.03,"f":0.05,"c":0.02,"k":0.01},{"x":1595,"b":0,"d":0.06,"f":0.04,"c":0,"k":0.02},{"x":1600,"b":0,"d":0.07,"f":0.05,"k":0.03},{"x":1605,"b":0,"d":0.07,"f":0.06,"k":0.04,"g":0},{"x":1610,"b":0,"d":0.08,"f":0.07,"k":0.04,"g":0.01},{"x":1615,"b":0,"d":0.08,"f":0.08,"k":0.04,"g":0.02,"h":0},{"x":1620,"b":0,"d":0.11,"f":0.1,"k":0.03,"g":0.04,"h":0.01},{"x":1625,"b":0,"d":0.12,"f":0.12,"k":0.02,"g":0.07,"h":0.01},{"x":1630,"b":0,"d":0.17,"f":0.18,"k":0.01,"g":0.13,"h":0.02},{"x":1635,"b":0,"d":0.25,"f":0.27,"k":0,"g":0.22,"h":0.03},{"x":1640,"b":0,"d":0.39,"f":0.39,"g":0.32,"h":0.05},{"x":1645,"b":0,"d":0.51,"f":0.5,"g":0.41,"h":0.07},{"x":1650,"b":0,"d":0.57,"f":0.57,"g":0.45,"h":0.1},{"x":1655,"b":0,"d":0.63,"f":0.61,"g":0.45,"h":0.14},{"x":1660,"b":0,"d":0.59,"f":0.58,"g":0.39,"h":0.17},{"x":1665,"b":0,"d":0.53,"f":0.53,"g":0.3,"h":0.21},{"x":1670,"b":0,"d":0.47,"f":0.45,"g":0.2,"h":0.23},{"x":1675,"b":0,"d":0.4,"f":0.39,"g":0.12,"h":0.25},{"x":1680,"b":0,"d":0.36,"f":0.34,"g":0.06,"h":0.26},{"x":1685,"b":0,"d":0.3,"f":0.3,"g":0.03,"h":0.25},{"x":1690,"b":0,"d":0.25,"f":0.26,"g":0.01,"h":0.23},{"x":1695,"b":0,"d":0.24,"f":0.23,"g":0,"h":0.21},{"x":1700,"b":0,"d":0.18,"f":0.19,"h":0.17},{"x":1705,"b":0,"d":0.18,"f":0.16,"h":0.14},{"x":1710,"b":0,"d":0.11,"f":0.12,"h":0.1},{"x":1715,"b":0,"d":0.1,"f":0.09,"h":0.07},{"x":1720,"b":0,"d":0.07,"f":0.07,"h":0.05},{"x":1725,"b":0,"d":0.04,"f":0.05,"h":0.03},{"x":1730,"b":0,"d":0.02,"f":0.04,"h":0.02},{"x":1735,"b":0,"d":0.05,"f":0.03,"h":0.01},{"x":1740,"b":0,"d":0.05,"f":0.03,"h":0.01},{"x":1745,"b":0,"d":0.03,"f":0.02,"h":0},{"x":1750,"b":0,"d":0.02,"f":0.02}
]
},
"vconcat":[
{"title":{"text":"BCL2","fontSize":20,"fontStyle":"italic","fontWeight":"bold","offset":3,"anchor":"middle","font":"Liberation Sans","color":"#000"},
 "bounds":"flush","spacing":25,"resolve":{"scale":{"x":"independent","y":"independent"}},
 "hconcat":[
 {"width":166,"height":184,"data":{"name":"A"},
  "encoding":{"x":{"field":"x","type":"quantitative","scale":{"domain":[760,810],"nice":false,"zero":false},"axis":{"values":[760,770,780,790,800,810],"title":null}}},
  "layer":[
   {"mark":{"type":"area","interpolate":"monotone","strokeWidth":1,"opacity":1},"encoding":{"y":{"field":"c","type":"quantitative","scale":{"domain":[-0.06,3.35],"nice":false,"zero":false}},"y2":{"field":"b"},"detail":{"field":"b","type":"nominal"},"fill":{"field":"b","type":"nominal","scale":{"domain":[0,1,2],"range":["#7398e8","#7398e8","#cad7f1"]},"legend":null},"stroke":{"field":"b","type":"nominal","scale":{"domain":[0,1,2],"range":["#5d84e2","#5d84e2","#a6bbec"]},"legend":null}}},
   {"mark":{"type":"line","interpolate":"monotone","color":"#e63d6c","strokeWidth":2.2},"encoding":{"y":{"field":"f","type":"quantitative"},"detail":{"field":"b","type":"nominal"}}},
   {"mark":{"type":"line","color":"#3c5be8","strokeWidth":1,"point":{"filled":true,"size":5,"color":"#3c5be8"}},"encoding":{"y":{"field":"d","type":"quantitative"},"detail":{"field":"b","type":"nominal"}}},
   {"data":{"values":[{"x":782.5,"k":"l"},{"x":786,"k":"d"}]},"mark":{"type":"rule","strokeWidth":1},"encoding":{"y":{"datum":2.8},"y2":{"datum":-0.06},"color":{"field":"k","type":"nominal","scale":{"domain":["d","l","m","s"],"range":["#444444","#8ea2d6","#a6a6a6","#c8c8c8"]},"legend":null},"strokeDash":{"field":"k","type":"nominal","scale":{"domain":["d","l","m","s"],"range":[[3,2],[3,2],[3,2],[1,0]]},"legend":null}}},
   {"data":{"values":[{"x":779.5,"y":2.47,"x2":782.3,"y2":2.31},{"x":788,"y":1.62,"x2":786,"y2":1.5},{"x":788.5,"y":0.6,"x2":786.5,"y2":0.57}]},"mark":{"type":"rule","color":"#333","strokeWidth":0.8},"encoding":{"y":{"field":"y","type":"quantitative"},"x2":{"field":"x2"},"y2":{"field":"y2"}}},
   {"data":{"values":[{"x":804.5,"y":2.46,"t":"pH 7.8"},{"x":804.5,"y":1.39,"t":"pH 6.6"},{"x":804.5,"y":0.39,"t":"pH 5.2"},{"x":777.4,"y":2.54,"t":"781.9"},{"x":789.5,"y":1.69,"t":"785.9"},{"x":790.4,"y":0.67,"t":"785.1"}]},"mark":{"type":"text","fontSize":8.5,"color":"#222"},"encoding":{"y":{"field":"y","type":"quantitative"},"text":{"field":"t"}}},
   {"data":{"values":[{"x":783.7,"y":2.88,"t":"a"}]},"mark":{"type":"text","fontSize":11,"fontWeight":"bold","color":"#111"},"encoding":{"y":{"field":"y","type":"quantitative"},"text":{"field":"t"}}},
   {"data":{"values":[{}]},"mark":{"type":"text","text":"A","fontSize":19,"fontWeight":"bold","align":"left","baseline":"top","dx":3,"dy":2,"color":"#000"},"encoding":{"x":{"datum":760},"y":{"datum":3.35}}}
  ]},
 {"width":166,"height":184,"data":{"name":"C"},
  "encoding":{"x":{"field":"x","type":"quantitative","scale":{"domain":[1350,1400],"nice":false,"zero":false},"axis":{"values":[1350,1360,1370,1380,1390,1400],"title":null}}},
  "layer":[
   {"mark":{"type":"area","interpolate":"monotone","fill":"#c8efc4","stroke":"#a9e0a4","strokeWidth":0.8,"opacity":1},"encoding":{"y":{"field":"c","type":"quantitative","scale":{"domain":[-0.06,3.35],"nice":false,"zero":false}},"y2":{"field":"b"},"detail":{"field":"b","type":"nominal"}}},
   {"mark":{"type":"area","interpolate":"monotone","fill":"#6f90e2","stroke":"#3e63dc","strokeWidth":1,"opacity":1},"encoding":{"y":{"field":"e","type":"quantitative"},"y2":{"field":"b"},"detail":{"field":"b","type":"nominal"}}},
   {"mark":{"type":"line","interpolate":"monotone","color":"#e63d6c","strokeWidth":2.2},"encoding":{"y":{"field":"f","type":"quantitative"},"detail":{"field":"b","type":"nominal"}}},
   {"mark":{"type":"line","color":"#3c5be8","strokeWidth":1,"point":{"filled":true,"size":5,"color":"#3c5be8"}},"encoding":{"y":{"field":"d","type":"quantitative"},"detail":{"field":"b","type":"nominal"}}},
   {"data":{"values":[{"x":1374.9,"k":"d"},{"x":1376.7,"k":"m"}]},"mark":{"type":"rule","strokeWidth":1},"encoding":{"y":{"datum":2.98},"y2":{"datum":-0.06},"color":{"field":"k","type":"nominal","scale":{"domain":["d","l","m","s"],"range":["#444444","#8ea2d6","#a6a6a6","#c8c8c8"]},"legend":null},"strokeDash":{"field":"k","type":"nominal","scale":{"domain":["d","l","m","s"],"range":[[3,2],[3,2],[3,2],[1,0]]},"legend":null}}},
   {"data":{"values":[{"x":1373,"y":2.53,"x2":1374.3,"y2":2.37},{"x":1378,"y":1.58,"x2":1376.7,"y2":1.53},{"x":1377,"y":0.62,"x2":1375.7,"y2":0.45}]},"mark":{"type":"rule","color":"#333","strokeWidth":0.8},"encoding":{"y":{"field":"y","type":"quantitative"},"x2":{"field":"x2"},"y2":{"field":"y2"}}},
   {"data":{"values":[{"x":1395,"y":2.63,"t":"pH 7.8"},{"x":1395,"y":1.57,"t":"pH 6.6"},{"x":1395,"y":0.39,"t":"pH 5.2"},{"x":1371.7,"y":2.61,"t":"1374.2"},{"x":1380.1,"y":1.65,"t":"1376.7"},{"x":1379.8,"y":0.69,"t":"1375.7"}]},"mark":{"type":"text","fontSize":8.5,"color":"#222"},"encoding":{"y":{"field":"y","type":"quantitative"},"text":{"field":"t"}}},
   {"data":{"values":[{"x":1374.7,"y":3.07,"t":"f"}]},"mark":{"type":"text","fontSize":11,"fontWeight":"bold","color":"#111"},"encoding":{"y":{"field":"y","type":"quantitative"},"text":{"field":"t"}}},
   {"data":{"values":[{}]},"mark":{"type":"text","text":"C","fontSize":19,"fontWeight":"bold","align":"left","baseline":"top","dx":3,"dy":2,"color":"#000"},"encoding":{"x":{"datum":1350},"y":{"datum":3.35}}}
  ]},
 {"width":166,"height":184,"data":{"name":"E"},
  "encoding":{"x":{"field":"x","type":"quantitative","scale":{"domain":[1460,1510],"nice":false,"zero":false},"axis":{"values":[1460,1470,1480,1490,1500,1510],"title":null}}},
  "layer":[
   {"mark":{"type":"area","interpolate":"monotone","fill":"#f8bccd","stroke":"#f08dab","strokeWidth":1,"opacity":1},"encoding":{"y":{"field":"c","type":"quantitative","scale":{"domain":[-0.06,3.35],"nice":false,"zero":false}},"y2":{"field":"b"},"detail":{"field":"b","type":"nominal"}}},
   {"mark":{"type":"line","interpolate":"monotone","color":"#222","strokeWidth":1},"encoding":{"y":{"field":"e","type":"quantitative"},"detail":{"field":"b","type":"nominal"}}},
   {"mark":{"type":"line","interpolate":"monotone","color":"#e63d6c","strokeWidth":2.2},"encoding":{"y":{"field":"f","type":"quantitative"},"detail":{"field":"b","type":"nominal"}}},
   {"mark":{"type":"line","color":"#3c5be8","strokeWidth":1,"point":{"filled":true,"size":5,"color":"#3c5be8"}},"encoding":{"y":{"field":"d","type":"quantitative"},"detail":{"field":"b","type":"nominal"}}},
   {"data":{"values":[{"x":1484.2,"k":"d"},{"x":1486.5,"k":"d"}]},"mark":{"type":"rule","strokeWidth":1},"encoding":{"y":{"datum":3.08},"y2":{"datum":-0.06},"color":{"field":"k","type":"nominal","scale":{"domain":["d","l","m","s"],"range":["#444444","#8ea2d6","#a6a6a6","#c8c8c8"]},"legend":null},"strokeDash":{"field":"k","type":"nominal","scale":{"domain":["d","l","m","s"],"range":[[3,2],[3,2],[3,2],[1,0]]},"legend":null}}},
   {"data":{"values":[{"x":1488.5,"y":2.7,"x2":1487.5,"y2":2.52},{"x":1483,"y":1.74,"x2":1486.6,"y2":1.63},{"x":1482.5,"y":0.53,"x2":1484.1,"y2":0.41}]},"mark":{"type":"rule","color":"#333","strokeWidth":0.8},"encoding":{"y":{"field":"y","type":"quantitative"},"x2":{"field":"x2"},"y2":{"field":"y2"}}},
   {"data":{"values":[{"x":1464.6,"y":2.44,"t":"pH 7.8"},{"x":1464.6,"y":1.37,"t":"pH 6.6"},{"x":1464.6,"y":0.39,"t":"pH 5.2"},{"x":1490.8,"y":2.76,"t":"1487.5"},{"x":1479.9,"y":1.81,"t":"1486.6"},{"x":1480.4,"y":0.6,"t":"1484.1"}]},"mark":{"type":"text","fontSize":8.5,"color":"#222"},"encoding":{"y":{"field":"y","type":"quantitative"},"text":{"field":"t"}}},
   {"data":{"values":[{"x":1488.3,"y":3.26,"t":"g"}]},"mark":{"type":"text","fontSize":11,"fontWeight":"bold","color":"#111"},"encoding":{"y":{"field":"y","type":"quantitative"},"text":{"field":"t"}}},
   {"data":{"values":[{}]},"mark":{"type":"text","text":"E","fontSize":19,"fontWeight":"bold","align":"left","baseline":"top","dx":3,"dy":2,"color":"#000"},"encoding":{"x":{"datum":1460},"y":{"datum":3.35}}}
  ]},
 {"width":166,"height":184,"data":{"name":"G"},
  "encoding":{"x":{"field":"x","type":"quantitative","scale":{"domain":[1550,1750],"nice":false,"zero":false},"axis":{"values":[1550,1600,1650,1700,1750],"title":null}}},
  "layer":[
   {"mark":{"type":"area","interpolate":"monotone","fill":"#f8bccd","stroke":"#ee7fa0","strokeWidth":1,"opacity":1},"encoding":{"y":{"field":"c","type":"quantitative","scale":{"domain":[-0.06,3.35],"nice":false,"zero":false}},"y2":{"field":"b"},"detail":{"field":"b","type":"nominal"}}},
   {"mark":{"type":"area","interpolate":"monotone","fill":"#fbd6e1","stroke":"#f29ab4","strokeWidth":1,"opacity":1},"encoding":{"y":{"field":"h","type":"quantitative"},"y2":{"field":"b"},"detail":{"field":"b","type":"nominal"}}},
   {"mark":{"type":"area","interpolate":"monotone","fill":"#fbe3cf","stroke":"#f2b0a0","strokeWidth":1,"opacity":1},"encoding":{"y":{"field":"k","type":"quantitative"},"y2":{"field":"b"},"detail":{"field":"b","type":"nominal"}}},
   {"mark":{"type":"line","interpolate":"monotone","color":"#222","strokeWidth":1},"encoding":{"y":{"field":"e","type":"quantitative"},"detail":{"field":"b","type":"nominal"}}},
   {"mark":{"type":"line","interpolate":"monotone","color":"#222","strokeWidth":1},"encoding":{"y":{"field":"g","type":"quantitative"},"detail":{"field":"b","type":"nominal"}}},
   {"mark":{"type":"line","interpolate":"monotone","color":"#e63d6c","strokeWidth":2.2},"encoding":{"y":{"field":"f","type":"quantitative"},"detail":{"field":"b","type":"nominal"}}},
   {"mark":{"type":"line","color":"#3c5be8","strokeWidth":1,"point":{"filled":true,"size":5,"color":"#3c5be8"}},"encoding":{"y":{"field":"d","type":"quantitative"},"detail":{"field":"b","type":"nominal"}}},
   {"data":{"values":[{"x":1609.4,"k":"d"},{"x":1622.4,"k":"d"},{"x":1679,"k":"s"}]},"mark":{"type":"rule","strokeWidth":1.2},"encoding":{"y":{"datum":2.85},"y2":{"datum":-0.06},"color":{"field":"k","type":"nominal","scale":{"domain":["d","l","m","s"],"range":["#444444","#8ea2d6","#a6a6a6","#c8c8c8"]},"legend":null},"strokeDash":{"field":"k","type":"nominal","scale":{"domain":["d","l","m","s"],"range":[[3,2],[3,2],[3,2],[1,0]]},"legend":null}}},
   {"data":{"values":[{"x":1625,"y":2.58,"x2":1622,"y2":2.19},{"x":1625,"y":1.58,"x2":1620,"y2":1.15},{"x":1600,"y":0.3,"x2":1609,"y2":0.09}]},"mark":{"type":"rule","color":"#333","strokeWidth":0.8},"encoding":{"y":{"field":"y","type":"quantitative"},"x2":{"field":"x2"},"y2":{"field":"y2"}}},
   {"data":{"values":[{"x":1725,"y":2.37,"t":"pH 7.8"},{"x":1725,"y":1.37,"t":"pH 6.6"},{"x":1725,"y":0.39,"t":"pH 5.2"},{"x":1626.8,"y":2.65,"t":"1622"},{"x":1626.8,"y":1.65,"t":"1620"},{"x":1594.7,"y":0.34,"t":"1609"}]},"mark":{"type":"text","fontSize":8.5,"color":"#222"},"encoding":{"y":{"field":"y","type":"quantitative"},"text":{"field":"t"}}},
   {"data":{"values":[{"x":1622,"y":2.98,"t":"j"},{"x":1679,"y":2.89,"t":"l"}]},"mark":{"type":"text","fontSize":11,"fontWeight":"bold","color":"#111"},"encoding":{"y":{"field":"y","type":"quantitative"},"text":{"field":"t"}}},
   {"data":{"values":[{}]},"mark":{"type":"text","text":"G","fontSize":19,"fontWeight":"bold","align":"left","baseline":"top","dx":3,"dy":2,"color":"#000"},"encoding":{"x":{"datum":1550},"y":{"datum":3.35}}}
  ]}
 ]},
{"title":{"text":"KRAS","fontSize":20,"fontStyle":"italic","fontWeight":"bold","offset":3,"anchor":"middle","font":"Liberation Sans","color":"#000"},
 "bounds":"flush","spacing":25,"resolve":{"scale":{"x":"independent","y":"independent"}},
 "hconcat":[
 {"width":166,"height":184,"data":{"name":"B"},
  "encoding":{"x":{"field":"x","type":"quantitative","scale":{"domain":[760,810],"nice":false,"zero":false},"axis":{"values":[760,770,780,790,800,810],"title":"Raman shift (cm⁻¹)"}}},
  "layer":[
   {"mark":{"type":"area","interpolate":"monotone","strokeWidth":1,"opacity":1},"encoding":{"y":{"field":"c","type":"quantitative","scale":{"domain":[-0.06,3.35],"nice":false,"zero":false}},"y2":{"field":"b"},"detail":{"field":"b","type":"nominal"},"fill":{"field":"b","type":"nominal","scale":{"domain":[0,1,2],"range":["#7398e8","#7398e8","#cad7f1"]},"legend":null},"stroke":{"field":"b","type":"nominal","scale":{"domain":[0,1,2],"range":["#5d84e2","#5d84e2","#a6bbec"]},"legend":null}}},
   {"mark":{"type":"line","interpolate":"monotone","color":"#e63d6c","strokeWidth":2.2},"encoding":{"y":{"field":"f","type":"quantitative"},"detail":{"field":"b","type":"nominal"}}},
   {"mark":{"type":"line","color":"#3c5be8","strokeWidth":1,"point":{"filled":true,"size":5,"color":"#3c5be8"}},"encoding":{"y":{"field":"d","type":"quantitative"},"detail":{"field":"b","type":"nominal"}}},
   {"data":{"values":[{"x":782.5,"k":"l"},{"x":786,"k":"d"}]},"mark":{"type":"rule","strokeWidth":1},"encoding":{"y":{"datum":2.72},"y2":{"datum":-0.06},"color":{"field":"k","type":"nominal","scale":{"domain":["d","l","m","s"],"range":["#444444","#8ea2d6","#a6a6a6","#c8c8c8"]},"legend":null},"strokeDash":{"field":"k","type":"nominal","scale":{"domain":["d","l","m","s"],"range":[[3,2],[3,2],[3,2],[1,0]]},"legend":null}}},
   {"data":{"values":[{"x":781,"y":2.53,"x2":783,"y2":2.38},{"x":785,"y":1.62,"x2":785.5,"y2":1.47},{"x":789.5,"y":0.62,"x2":787.5,"y2":0.6}]},"mark":{"type":"rule","color":"#333","strokeWidth":0.8},"encoding":{"y":{"field":"y","type":"quantitative"},"x2":{"field":"x2"},"y2":{"field":"y2"}}},
   {"data":{"values":[{"x":805,"y":2.28,"t":"pH 7.8"},{"x":805,"y":1.39,"t":"pH 6.6"},{"x":805,"y":0.37,"t":"pH 5.2"},{"x":779.7,"y":2.61,"t":"782.7"},{"x":784.8,"y":1.69,"t":"785.0"},{"x":791.8,"y":0.65,"t":"786"}]},"mark":{"type":"text","fontSize":8.5,"color":"#222"},"encoding":{"y":{"field":"y","type":"quantitative"},"text":{"field":"t"}}},
   {"data":{"values":[{"x":782.7,"y":2.81,"t":"a"}]},"mark":{"type":"text","fontSize":11,"fontWeight":"bold","color":"#111"},"encoding":{"y":{"field":"y","type":"quantitative"},"text":{"field":"t"}}},
   {"data":{"values":[{}]},"mark":{"type":"text","text":"B","fontSize":19,"fontWeight":"bold","align":"left","baseline":"top","dx":3,"dy":2,"color":"#000"},"encoding":{"x":{"datum":760},"y":{"datum":3.35}}}
  ]},
 {"width":166,"height":184,"data":{"name":"D"},
  "encoding":{"x":{"field":"x","type":"quantitative","scale":{"domain":[1350,1400],"nice":false,"zero":false},"axis":{"values":[1350,1360,1370,1380,1390,1400],"title":"Raman shift (cm⁻¹)"}}},
  "layer":[
   {"mark":{"type":"area","interpolate":"monotone","fill":"#c8efc4","stroke":"#a9e0a4","strokeWidth":0.8,"opacity":1},"encoding":{"y":{"field":"c","type":"quantitative","scale":{"domain":[-0.06,3.35],"nice":false,"zero":false}},"y2":{"field":"b"},"detail":{"field":"b","type":"nominal"}}},
   {"mark":{"type":"area","interpolate":"monotone","fill":"#6f90e2","stroke":"#3e63dc","strokeWidth":1,"opacity":1},"encoding":{"y":{"field":"e","type":"quantitative"},"y2":{"field":"b"},"detail":{"field":"b","type":"nominal"}}},
   {"mark":{"type":"line","interpolate":"monotone","color":"#e63d6c","strokeWidth":2.2},"encoding":{"y":{"field":"f","type":"quantitative"},"detail":{"field":"b","type":"nominal"}}},
   {"mark":{"type":"line","color":"#3c5be8","strokeWidth":1,"point":{"filled":true,"size":5,"color":"#3c5be8"}},"encoding":{"y":{"field":"d","type":"quantitative"},"detail":{"field":"b","type":"nominal"}}},
   {"data":{"values":[{"x":1373.9,"k":"d"},{"x":1376.4,"k":"m"}]},"mark":{"type":"rule","strokeWidth":1},"encoding":{"y":{"datum":3.03},"y2":{"datum":-0.06},"color":{"field":"k","type":"nominal","scale":{"domain":["d","l","m","s"],"range":["#444444","#8ea2d6","#a6a6a6","#c8c8c8"]},"legend":null},"strokeDash":{"field":"k","type":"nominal","scale":{"domain":["d","l","m","s"],"range":[[3,2],[3,2],[3,2],[1,0]]},"legend":null}}},
   {"data":{"values":[{"x":1372.5,"y":2.6,"x2":1374,"y2":2.45},{"x":1372.5,"y":1.56,"x2":1374.8,"y2":1.47},{"x":1377.5,"y":0.65,"x2":1378.4,"y2":0.44}]},"mark":{"type":"rule","color":"#333","strokeWidth":0.8},"encoding":{"y":{"field":"y","type":"quantitative"},"x2":{"field":"x2"},"y2":{"field":"y2"}}},
   {"data":{"values":[{"x":1394.7,"y":2.63,"t":"pH 7.8"},{"x":1394.7,"y":1.57,"t":"pH 6.6"},{"x":1394.7,"y":0.39,"t":"pH 5.2"},{"x":1370.4,"y":2.68,"t":"1373.9"},{"x":1370.4,"y":1.63,"t":"1374.8"},{"x":1379.6,"y":0.72,"t":"1378.4"}]},"mark":{"type":"text","fontSize":8.5,"color":"#222"},"encoding":{"y":{"field":"y","type":"quantitative"},"text":{"field":"t"}}},
   {"data":{"values":[{"x":1373.4,"y":3.15,"t":"f"}]},"mark":{"type":"text","fontSize":11,"fontWeight":"bold","color":"#111"},"encoding":{"y":{"field":"y","type":"quantitative"},"text":{"field":"t"}}},
   {"data":{"values":[{}]},"mark":{"type":"text","text":"D","fontSize":19,"fontWeight":"bold","align":"left","baseline":"top","dx":3,"dy":2,"color":"#000"},"encoding":{"x":{"datum":1350},"y":{"datum":3.35}}}
  ]},
 {"width":166,"height":184,"data":{"name":"F"},
  "encoding":{"x":{"field":"x","type":"quantitative","scale":{"domain":[1460,1510],"nice":false,"zero":false},"axis":{"values":[1460,1470,1480,1490,1500,1510],"title":"Raman shift (cm⁻¹)"}}},
  "layer":[
   {"mark":{"type":"area","interpolate":"monotone","fill":"#f8bccd","stroke":"#f08dab","strokeWidth":1,"opacity":1},"encoding":{"y":{"field":"c","type":"quantitative","scale":{"domain":[-0.06,3.35],"nice":false,"zero":false}},"y2":{"field":"b"},"detail":{"field":"b","type":"nominal"}}},
   {"mark":{"type":"line","interpolate":"monotone","color":"#222","strokeWidth":1},"encoding":{"y":{"field":"e","type":"quantitative"},"detail":{"field":"b","type":"nominal"}}},
   {"mark":{"type":"line","interpolate":"monotone","color":"#e63d6c","strokeWidth":2.2},"encoding":{"y":{"field":"f","type":"quantitative"},"detail":{"field":"b","type":"nominal"}}},
   {"mark":{"type":"line","color":"#3c5be8","strokeWidth":1,"point":{"filled":true,"size":5,"color":"#3c5be8"}},"encoding":{"y":{"field":"d","type":"quantitative"},"detail":{"field":"b","type":"nominal"}}},
   {"data":{"values":[{"x":1487.4,"k":"m"},{"x":1489,"k":"m"}]},"mark":{"type":"rule","strokeWidth":1},"encoding":{"y":{"datum":3.03},"y2":{"datum":-0.06},"color":{"field":"k","type":"nominal","scale":{"domain":["d","l","m","s"],"range":["#444444","#8ea2d6","#a6a6a6","#c8c8c8"]},"legend":null},"strokeDash":{"field":"k","type":"nominal","scale":{"domain":["d","l","m","s"],"range":[[3,2],[3,2],[3,2],[1,0]]},"legend":null}}},
   {"data":{"values":[{"x":1492,"y":2.92,"x2":1489,"y2":2.8},{"x":1490.5,"y":1.9,"x2":1488,"y2":1.76},{"x":1486,"y":0.81,"x2":1487.5,"y2":0.65}]},"mark":{"type":"rule","color":"#333","strokeWidth":0.8},"encoding":{"y":{"field":"y","type":"quantitative"},"x2":{"field":"x2"},"y2":{"field":"y2"}}},
   {"data":{"values":[{"x":1464.2,"y":2.31,"t":"pH 7.8"},{"x":1464.2,"y":1.24,"t":"pH 6.6"},{"x":1464.2,"y":0.2,"t":"pH 5.2"},{"x":1495.7,"y":2.96,"t":"1488.5"},{"x":1493.5,"y":1.93,"t":"1487.2"},{"x":1484.4,"y":0.87,"t":"1487.3"}]},"mark":{"type":"text","fontSize":8.5,"color":"#222"},"encoding":{"y":{"field":"y","type":"quantitative"},"text":{"field":"t"}}},
   {"data":{"values":[{"x":1488.7,"y":3.15,"t":"g"}]},"mark":{"type":"text","fontSize":11,"fontWeight":"bold","color":"#111"},"encoding":{"y":{"field":"y","type":"quantitative"},"text":{"field":"t"}}},
   {"data":{"values":[{}]},"mark":{"type":"text","text":"F","fontSize":19,"fontWeight":"bold","align":"left","baseline":"top","dx":3,"dy":2,"color":"#000"},"encoding":{"x":{"datum":1460},"y":{"datum":3.35}}}
  ]},
 {"width":166,"height":184,"data":{"name":"H"},
  "encoding":{"x":{"field":"x","type":"quantitative","scale":{"domain":[1550,1750],"nice":false,"zero":false},"axis":{"values":[1550,1600,1650,1700,1750],"title":"Raman shift (cm⁻¹)"}}},
  "layer":[
   {"mark":{"type":"area","interpolate":"monotone","fill":"#f8bccd","stroke":"#ee7fa0","strokeWidth":1,"opacity":1},"encoding":{"y":{"field":"c","type":"quantitative","scale":{"domain":[-0.06,3.35],"nice":false,"zero":false}},"y2":{"field":"b"},"detail":{"field":"b","type":"nominal"}}},
   {"mark":{"type":"area","interpolate":"monotone","fill":"#fbd6e1","stroke":"#f29ab4","strokeWidth":1,"opacity":1},"encoding":{"y":{"field":"h","type":"quantitative"},"y2":{"field":"b"},"detail":{"field":"b","type":"nominal"}}},
   {"mark":{"type":"area","interpolate":"monotone","fill":"#f6c4cf","stroke":"#ee8aa5","strokeWidth":1,"opacity":1},"encoding":{"y":{"field":"k","type":"quantitative"},"y2":{"field":"b"},"detail":{"field":"b","type":"nominal"}}},
   {"mark":{"type":"line","interpolate":"monotone","color":"#222","strokeWidth":1},"encoding":{"y":{"field":"e","type":"quantitative"},"detail":{"field":"b","type":"nominal"}}},
   {"mark":{"type":"line","interpolate":"monotone","color":"#222","strokeWidth":1},"encoding":{"y":{"field":"g","type":"quantitative"},"detail":{"field":"b","type":"nominal"}}},
   {"mark":{"type":"line","interpolate":"monotone","color":"#e63d6c","strokeWidth":2.2},"encoding":{"y":{"field":"f","type":"quantitative"},"detail":{"field":"b","type":"nominal"}}},
   {"mark":{"type":"line","color":"#3c5be8","strokeWidth":1,"point":{"filled":true,"size":5,"color":"#3c5be8"}},"encoding":{"y":{"field":"d","type":"quantitative"},"detail":{"field":"b","type":"nominal"}}},
   {"data":{"values":[{"x":1614.7,"k":"d"},{"x":1621.9,"k":"m"},{"x":1683,"k":"s"}]},"mark":{"type":"rule","strokeWidth":1.2},"encoding":{"y":{"datum":2.87},"y2":{"datum":-0.06},"color":{"field":"k","type":"nominal","scale":{"domain":["d","l","m","s"],"range":["#444444","#8ea2d6","#a6a6a6","#c8c8c8"]},"legend":null},"strokeDash":{"field":"k","type":"nominal","scale":{"domain":["d","l","m","s"],"range":[[3,2],[3,2],[3,2],[1,0]]},"legend":null}}},
   {"data":{"values":[{"x":1618,"y":2.53,"x2":1621,"y2":2.18},{"x":1617,"y":1.51,"x2":1615,"y2":1.1},{"x":1604,"y":0.4,"x2":1611,"y2":0.08}]},"mark":{"type":"rule","color":"#333","strokeWidth":0.8},"encoding":{"y":{"field":"y","type":"quantitative"},"x2":{"field":"x2"},"y2":{"field":"y2"}}},
   {"data":{"values":[{"x":1724,"y":2.37,"t":"pH 7.8"},{"x":1724,"y":1.37,"t":"pH 6.6"},{"x":1724,"y":0.37,"t":"pH 5.2"},{"x":1615.9,"y":2.6,"t":"1621"},{"x":1616,"y":1.58,"t":"1615"},{"x":1601.8,"y":0.46,"t":"1611"}]},"mark":{"type":"text","fontSize":8.5,"color":"#222"},"encoding":{"y":{"field":"y","type":"quantitative"},"text":{"field":"t"}}},
   {"data":{"values":[{"x":1622,"y":2.98,"t":"j"},{"x":1683,"y":2.96,"t":"l"}]},"mark":{"type":"text","fontSize":11,"fontWeight":"bold","color":"#111"},"encoding":{"y":{"field":"y","type":"quantitative"},"text":{"field":"t"}}},
   {"data":{"values":[{}]},"mark":{"type":"text","text":"H","fontSize":19,"fontWeight":"bold","align":"left","baseline":"top","dx":3,"dy":2,"color":"#000"},"encoding":{"x":{"datum":1550},"y":{"datum":3.35}}}
  ]}
 ]}
],
"spacing":2
}
